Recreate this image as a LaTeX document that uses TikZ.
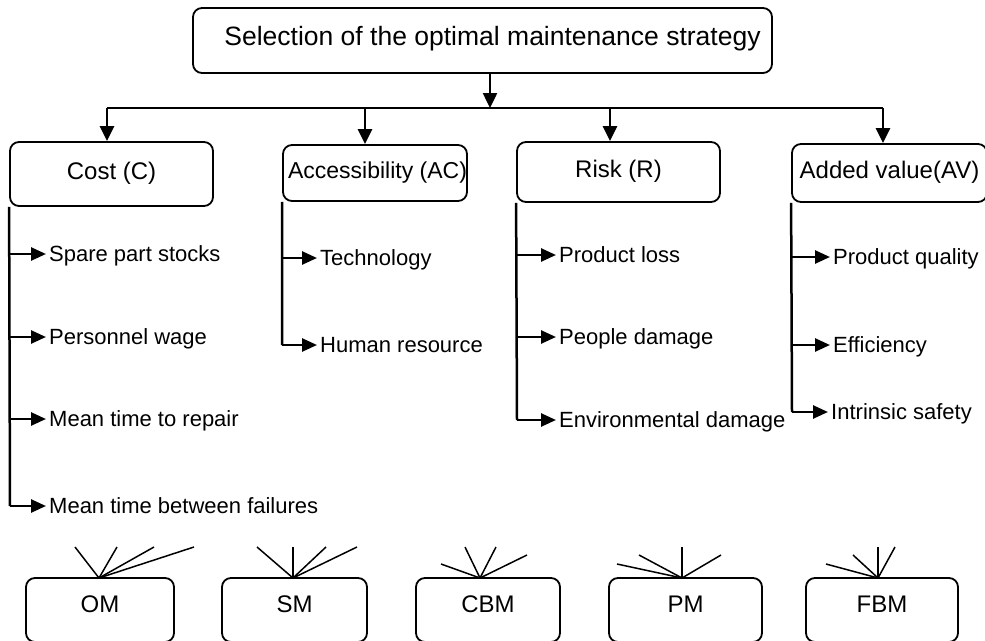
\documentclass[tikz,border=0pt]{standalone}
\usepackage{fontspec}
\setmainfont{Liberation Sans}
\usetikzlibrary{arrows.meta}
\begin{document}
\begin{tikzpicture}[x=1pt,y=-1pt,
  box/.style={draw, line width=1.8pt, rounded corners=9pt, inner sep=0pt, align=center},
  topfont/.style={font=\fontsize{26.5}{30}\selectfont, text height=19pt, text depth=9pt},
  catfont/.style={font=\fontsize{24}{28}\selectfont, text height=17.2pt, text depth=7pt},
  botfont/.style={font=\fontsize{24}{28}\selectfont, text height=17.2pt, text depth=13pt},
  item/.style={anchor=west, inner xsep=3pt, inner ysep=0pt, font=\fontsize{22}{26}\selectfont, text height=15.8pt, text depth=0pt},
  conn/.style={line width=2.5pt, -{Triangle[length=15pt,width=14pt]}},
  branch/.style={line width=2.6pt, -{Triangle[length=15pt,width=13pt]}},
  trunk/.style={line width=2.5pt},
  fan/.style={line width=1.5pt}]
\useasboundingbox (0,0) rectangle (985,640);
\clip (0,0) rectangle (985,640);

% top box
\node[box, topfont, minimum width=579pt, minimum height=65pt] (top) at (482.5,40.5) {\hspace*{20pt}Selection of the optimal maintenance strategy};

% category boxes
\node[box, catfont, minimum width=203pt, minimum height=64pt] (cost) at (111.5,174) {Cost (C)};
\node[box, catfont, font=\fontsize{23}{28}\selectfont, minimum width=184pt, minimum height=56pt] (ac) at (375,173) {\hspace*{5pt}Accessibility (AC)};
\node[box, catfont, minimum width=203pt, minimum height=60pt] (risk) at (618.5,172) {Risk (R)};
\node[box, catfont, minimum width=195pt, minimum height=58pt] (av) at (889.5,173) {Added value(AV)};

% junctions
\coordinate (j0) at (490,108);
\coordinate (jc) at (107,108);
\coordinate (jac) at (365,108);
\coordinate (jr) at (610,108);
\coordinate (jav) at (883,108);

\draw[conn] (top.south -| j0) -- (j0);
\draw[line width=2.2pt] (jc) -- (jav);
\draw[conn] (jc) -- (jc |- cost.north);
\draw[conn] (jac) -- (jac |- ac.north);
\draw[conn] (jr) -- (jr |- risk.north);
\draw[conn] (jav) -- (jav |- av.north);

% Cost items
\node[item] (c1) at (46,254) {Spare part stocks};
\node[item] (c2) at (46,337) {Personnel wage};
\node[item] (c3) at (46,419) {Mean time to repair};
\node[item] (c4) at (46,506) {Mean time between failures};
\coordinate (cv1) at (10,254);
\coordinate (cv2) at (10,337);
\coordinate (cv3) at (10,419);
\coordinate (cv4) at (10,506);
\draw[trunk] (cost.south west) -- (cv4);
\foreach \i in {1,2,3,4} \draw[branch] (cv\i) -- (c\i.west);

% Accessibility items
\node[item] (a1) at (317,258) {Technology};
\node[item] (a2) at (317,345) {Human resource};
\coordinate (av1) at (282,258);
\coordinate (av2) at (282,345);
\draw[trunk] (ac.south west) -- (av2);
\foreach \i in {1,2} \draw[branch] (av\i) -- (a\i.west);

% Risk items
\node[item] (r1) at (556,255) {Product loss};
\node[item] (r2) at (556,337) {People damage};
\node[item] (r3) at (556,420) {Environmental damage};
\coordinate (rv1) at (517,255);
\coordinate (rv2) at (517,337);
\coordinate (rv3) at (517,420);
\draw[trunk] (risk.south west) -- (rv3);
\foreach \i in {1,2,3} \draw[branch] (rv\i) -- (r\i.west);

% Added value items
\node[item] (v1) at (830,257) {Product quality};
\node[item] (v2) at (830,345) {Efficiency};
\node[item] (v3) at (828,412) {Intrinsic safety};
\coordinate (vv1) at (792,257);
\coordinate (vv2) at (792,345);
\coordinate (vv3) at (792,412);
\draw[trunk] (av.south west) -- (vv3);
\foreach \i in {1,2,3} \draw[branch] (vv\i) -- (v\i.west);

% bottom boxes
\node[box, botfont, minimum width=148pt, minimum height=64pt] (om) at (100,610) {OM};
\node[box, botfont, minimum width=145pt, minimum height=64pt] (sm) at (294.5,610) {SM};
\node[box, botfont, minimum width=144pt, minimum height=64pt] (cbm) at (488,610) {CBM};
\node[box, botfont, minimum width=153pt, minimum height=64pt] (pm) at (685.5,610) {PM};
\node[box, botfont, minimum width=152pt, minimum height=64pt] (fbm) at (882,610) {FBM};

% fans
\coordinate (oa) at (99,578);
\coordinate (sa) at (293,578);
\coordinate (ca) at (480,578);
\coordinate (pa) at (682,578);
\coordinate (fa) at (878,578);
\foreach \p in {(75,547),(117,547),(154,547),(194,547)} \draw[fan] (oa) -- \p;
\foreach \p in {(257,547),(293,547),(326,547),(357,547)} \draw[fan] (sa) -- \p;
\foreach \p in {(441,564),(465,547),(496,547),(527,555)} \draw[fan] (ca) -- \p;
\foreach \p in {(617,564),(639,555),(682,547),(721,555)} \draw[fan] (pa) -- \p;
\foreach \p in {(826,564),(853,555),(878,547),(895,547)} \draw[fan] (fa) -- \p;
\end{tikzpicture}
\end{document}
